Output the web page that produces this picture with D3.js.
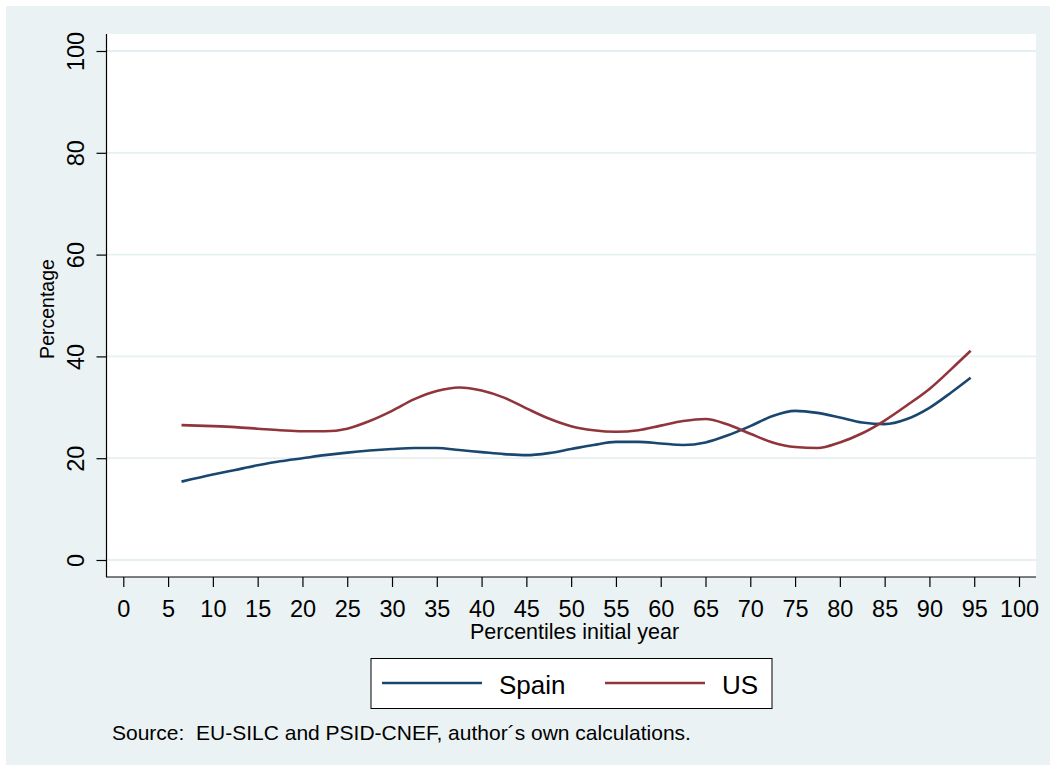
<!DOCTYPE html>
<html><head><meta charset="utf-8">
<script src="https://cdn.jsdelivr.net/npm/d3@7"></script>
<style>html,body{margin:0;padding:0;background:#fff;}svg{display:block;font-family:"Liberation Sans",Arial,sans-serif;}text{white-space:pre;}</style>
</head><body>
<svg id="chart" width="1056" height="771"></svg>
<script>
const percentiles = [6.5,10,12.5,15,17.5,20,22.5,25,27.5,30,32.5,35,37.5,40,42.5,45,47.5,50,52.5,55,57.5,60,62.5,65,67.5,70,72.5,75,77.5,80,82.5,85,87.5,90,92.5,94.6];
const spain = [15.4,16.8,17.7,18.6,19.4,20.0,20.6,21.1,21.5,21.8,22.0,22.0,21.6,21.2,20.8,20.6,21.0,21.8,22.6,23.2,23.2,22.9,22.6,23.1,24.5,26.3,28.3,29.3,28.9,28.0,27.0,26.7,27.7,29.9,33.0,35.8];
const us = [26.5,26.3,26.1,25.8,25.5,25.3,25.3,25.8,27.3,29.3,31.6,33.2,33.9,33.3,31.9,29.8,27.8,26.3,25.5,25.2,25.5,26.4,27.3,27.7,26.6,24.8,23.1,22.2,22.0,23.1,24.9,27.4,30.4,33.6,37.6,41.1];
const xTicks = d3.range(0,101,5);
const yTicks = [0,20,40,60,80,100];
const seriesNames = ["Spain","US"];
const seriesColors = ["#1a476f","#90353b"];
const yTitle = "Percentage";
const xTitle = "Percentiles initial year";
const note = "Source:  EU-SILC and PSID-CNEF, author\u00b4s own calculations.";

const svg = d3.select("#chart");
svg.append("rect").attr("x",6).attr("y",6).attr("width",1044).attr("height",759).attr("fill","#eaf2f3");
const pl = 107, pr = 1036, pt = 34, pb = 577;
svg.append("rect").attr("x",pl).attr("y",pt).attr("width",pr-pl).attr("height",pb-pt).attr("fill","#fff");

const x = d3.scaleLinear().domain([0,100]).range([123.3,1019]);
const y = d3.scaleLinear().domain([0,100]).range([560,51]);

// grid
svg.append("g").selectAll("line").data(yTicks).join("line")
  .attr("x1",pl).attr("x2",pr).attr("y1",d=>y(d)).attr("y2",d=>y(d))
  .attr("stroke","#e6eff1").attr("stroke-width",1.8);

// axes
const yAxis = d3.axisLeft(y).tickValues(yTicks).tickSize(10).tickPadding(0).tickFormat(d3.format("d"));
const gy = svg.append("g").attr("transform",`translate(${pl-0.5},0)`).call(yAxis);
gy.select(".domain").remove();
gy.append("line").attr("x1",0).attr("x2",0).attr("y1",pt).attr("y2",pb).attr("stroke","#000").attr("stroke-width",1.2);
gy.selectAll(".tick line").attr("stroke","#000").attr("stroke-width",1.2);
gy.selectAll(".tick text").attr("transform","rotate(-90)").attr("x",0).attr("y",-22.5).attr("dy",0)
  .attr("text-anchor","middle").attr("fill","#000").attr("font-size",23.5).attr("font-family","Liberation Sans, Arial, sans-serif");

const xAxis = d3.axisBottom(x).tickValues(xTicks).tickSize(10).tickPadding(0).tickFormat(d3.format("d"));
const gx = svg.append("g").attr("transform",`translate(0,${pb})`).call(xAxis);
gx.select(".domain").remove();
gx.append("line").attr("x1",pl-1).attr("x2",pr).attr("y1",0).attr("y2",0).attr("stroke","#000").attr("stroke-width",1.2);
gx.selectAll(".tick line").attr("stroke","#000").attr("stroke-width",1.2);
gx.selectAll(".tick text").attr("y",40).attr("dy",0).attr("fill","#000").attr("font-size",23.5).attr("font-family","Liberation Sans, Arial, sans-serif");

// titles
svg.append("text").attr("transform","translate(54,309) rotate(-90)").attr("text-anchor","middle")
  .attr("font-size",19.5).attr("fill","#000").text(yTitle);
svg.append("text").attr("x",574.5).attr("y",638.7).attr("text-anchor","middle")
  .attr("font-size",21.5).attr("fill","#000").text(xTitle);

// lines
const line = d3.line().x(d=>x(d[0])).y(d=>y(d[1])).curve(d3.curveMonotoneX);
[spain, us].forEach((vals,i)=>{
  svg.append("path").datum(percentiles.map((p,j)=>[p,vals[j]]))
    .attr("d",line).attr("fill","none").attr("stroke",seriesColors[i]).attr("stroke-width",2.6);
});

// legend
const lg = svg.append("g");
lg.append("rect").attr("x",371).attr("y",658.5).attr("width",401).attr("height",50)
  .attr("fill","#fff").attr("stroke","#000").attr("stroke-width",1);
const legX = [[382,499],[605,722]];
seriesNames.forEach((n,i)=>{
  lg.append("line").attr("x1",legX[i][0]).attr("x2",legX[i][0]+100).attr("y1",683).attr("y2",683)
    .attr("stroke",seriesColors[i]).attr("stroke-width",2.6);
  lg.append("text").attr("x",legX[i][1]).attr("y",694).attr("font-size",26).attr("fill","#000").text(n);
});

svg.append("text").attr("x",112).attr("y",739.5).attr("font-size",21).attr("fill","#000").text(note);
</script>
</body></html>
